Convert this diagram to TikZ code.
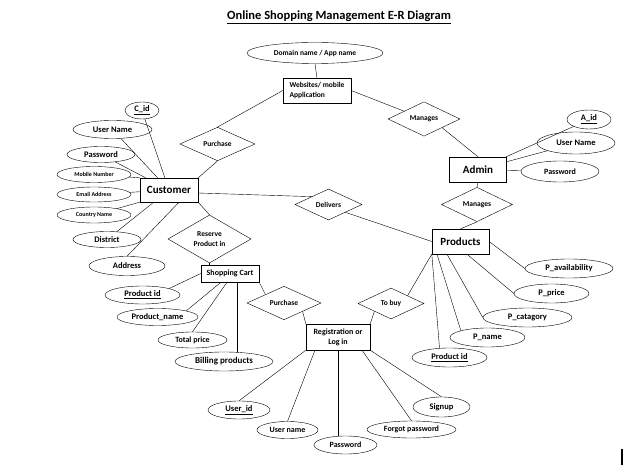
\documentclass[tikz,border=0pt]{standalone}
\usepackage{fontspec}
\setmainfont{Carlito}
\usetikzlibrary{shapes.geometric, positioning}
\tikzset{x=1pt, y=-1pt, line width=0.8pt,
	entity/.style={draw, rectangle, inner sep=0pt, font=\bfseries\fontsize{11}{12}\selectfont},
	attribute/.style={draw, ellipse, inner sep=0pt, font=\bfseries\fontsize{8.5}{9}\selectfont},
	small attribute/.style={attribute, font=\bfseries\fontsize{6}{7}\selectfont},
	relation/.style={draw, diamond, inner sep=0pt, align=center, font=\bfseries\fontsize{7.5}{10}\selectfont}}

\begin{document}
\begin{tikzpicture}
	\useasboundingbox (0,0) rectangle (640,465);
	\node[font=\bfseries\fontsize{12.5}{14}\selectfont] (Title) at (339,17) {\underline{Online Shopping Management E-R Diagram}};
	% top part
	\node[attribute, minimum width=136, minimum height=21, font=\bfseries\fontsize{7.5}{9}\selectfont] (Domain) at (315,53) {Domain name / App name};
	\node[entity, minimum width=68, minimum height=25, align=left, font=\bfseries\fontsize{7.5}{9.5}\selectfont] (Websites) at (317,90.5) {Websites/ mobile\\Application};
	\node[relation, minimum width=75, minimum height=32] (Purchase A) at (217.5,144) {Purchase};
	\node[relation, minimum width=72, minimum height=32] (Manages A) at (424,119) {Manages};
	% customer
	\node[entity, minimum width=58, minimum height=24] (Customer) at (169,190) {Customer};
	\node[attribute, minimum width=34, minimum height=17] (C id) at (142,110.5) {\underline{C\_id}};
	\node[attribute, minimum width=79, minimum height=18] (Cust User Name) at (112.5,129.5) {User Name};
	\node[attribute, minimum width=68, minimum height=16] (Cust Password) at (101,154.5) {Password};
	\node[small attribute, minimum width=74, minimum height=16] (Mobile Number) at (94,174.5) {Mobile Number};
	\node[small attribute, minimum width=74, minimum height=15] (Email Address) at (94,194.5) {Email Address};
	\node[small attribute, minimum width=74, minimum height=16] (Country Name) at (94,215) {Country Name};
	\node[attribute, minimum width=68, minimum height=16] (District) at (107,239.5) {District};
	\node[attribute, minimum width=76, minimum height=19] (Address) at (127,266) {Address};
	\node[relation, minimum width=83, minimum height=48] (Reserve) at (209.5,239) {Reserve\\Product in};
	\node[relation, minimum width=67, minimum height=31] (Delivers) at (328.5,204.5) {Delivers};
	% admin
	\node[entity, minimum width=57, minimum height=25] (Admin) at (478,169.5) {Admin};
	\node[attribute, minimum width=44, minimum height=19] (A id) at (589,119.5) {\underline{A\_id}};
	\node[attribute, minimum width=78, minimum height=22] (Admin User Name) at (576,143) {User Name};
	\node[attribute, minimum width=78, minimum height=21, font=\bfseries\fontsize{8}{9}\selectfont] (Admin Password) at (560,171.5) {Password};
	\node[relation, minimum width=71, minimum height=31] (Manages B) at (477,204.5) {Manages};
	% products
	\node[entity, minimum width=57, minimum height=25] (Products) at (460.5,241.5) {Products};
	\node[attribute, minimum width=88, minimum height=19] (P availability) at (569,268.5) {P\_availability};
	\node[attribute, minimum width=75, minimum height=19] (P price) at (551.5,293.5) {P\_price};
	\node[attribute, minimum width=89, minimum height=19] (P catagory) at (527.5,317.5) {P\_catagory};
	\node[attribute, minimum width=75, minimum height=19] (P name) at (487.5,337.5) {P\_name};
	\node[attribute, minimum width=75, minimum height=19] (Prod Product id) at (449.5,357.5) {\underline{Product id}};
	\node[relation, minimum width=66, minimum height=31] (To buy) at (391,303.5) {To buy};
	% shopping cart
	\node[entity, minimum width=58, minimum height=17, font=\bfseries\fontsize{8}{9}\selectfont] (Shopping Cart) at (230,273.5) {Shopping Cart};
	\node[attribute, minimum width=75, minimum height=18] (Cart Product id) at (142.5,295) {\underline{Product id}};
	\node[attribute, minimum width=81, minimum height=17] (Product name) at (157.5,317) {Product\_name};
	\node[attribute, minimum width=69, minimum height=16, font=\bfseries\fontsize{8}{9}\selectfont] (Total price) at (192.5,340) {Total price};
	\node[attribute, minimum width=98, minimum height=19, font=\bfseries\fontsize{9}{10}\selectfont] (Billing products) at (224,361.5) {Billing products};
	\node[relation, minimum width=74, minimum height=31] (Purchase B) at (284,303) {Purchase};
	% registration
	\node[entity, minimum width=64, minimum height=26, align=center, font=\bfseries\fontsize{8}{10}\selectfont] (Registration) at (338,337) {Registration or\\Log in};
	\node[attribute, minimum width=62, minimum height=18] (User id) at (239,410) {\underline{User\_id}};
	\node[attribute, minimum width=61, minimum height=17, font=\bfseries\fontsize{8}{9}\selectfont] (User name) at (287.5,430) {User name};
	\node[attribute, minimum width=63, minimum height=18, font=\bfseries\fontsize{8}{9}\selectfont] (Login Password) at (345.5,445) {Password};
	\node[attribute, minimum width=89, minimum height=17, font=\bfseries\fontsize{8}{9}\selectfont] (Forgot password) at (411.5,429.5) {Forgot password};
	\node[attribute, minimum width=57, minimum height=20] (Signup) at (441.5,407) {Signup};

	\draw
		(Domain.south) edge (Websites.north)
		(Customer.north east) edge (Purchase A.south)
		(Purchase A.north) edge (Websites.west)
		(Websites.east) edge (Manages A)
		(Manages A.south east) edge (Admin.north)
		(Admin) edge (A id)
		(Admin) edge (Admin User Name)
		(Admin) edge (Admin Password)
		(Admin.south) edge (Manages B.north)
		(Manages B.south) edge (Products.north)
		([yshift=-3pt]Customer.east) edge (Delivers.north west)
		(Delivers.south east) edge (Products.west)
		(Customer) edge (C id)
		(Customer) edge (Cust User Name)
		(Customer) edge (Cust Password)
		(Customer.north west) edge (Mobile Number)
		(Customer) edge (Email Address)
		(Customer.south west) edge (Country Name)
		(Customer) edge (District)
		([xshift=10pt]Customer.south) edge (Address.north)
		(Customer.south east) edge (Reserve.north)
		(Reserve.south) edge (Reserve.south |- Shopping Cart.north)
		(Shopping Cart.west) edge (Cart Product id.north east)
		([xshift=-9pt]Shopping Cart.south) edge (Product name.north east)
		([xshift=-3pt]Shopping Cart.south) edge (Total price.north)
		([xshift=7pt]Shopping Cart.south) edge ([xshift=7pt]Shopping Cart.south |- Billing products.north)
		(Shopping Cart.south east) edge (Purchase B.north west)
		(Purchase B.south east) edge (Registration.north west)
		(Products.south west) edge (To buy.north east)
		(To buy.south west) edge (Registration.north east)
		(Products.east) edge (P availability.west)
		([xshift=6.5pt]Products.south) edge (P price.west)
		([xshift=-13.5pt]Products.south) edge (P catagory.west)
		([xshift=-23.5pt]Products.south) edge (P name.north west)
		(Products.south west) edge ([xshift=-10pt]Prod Product id.north)
		(Registration.south west) edge (User id.north)
		([xshift=-23pt]Registration.south) edge (User name.north)
		(Registration.south) edge (Registration.south |- Login Password.north)
		([xshift=24pt]Registration.south) edge (Forgot password.north)
		(Registration.south east) edge (Signup.north);
	\draw[line width=1.6pt] (622,449) -- (622,465);
\end{tikzpicture}
\end{document}
